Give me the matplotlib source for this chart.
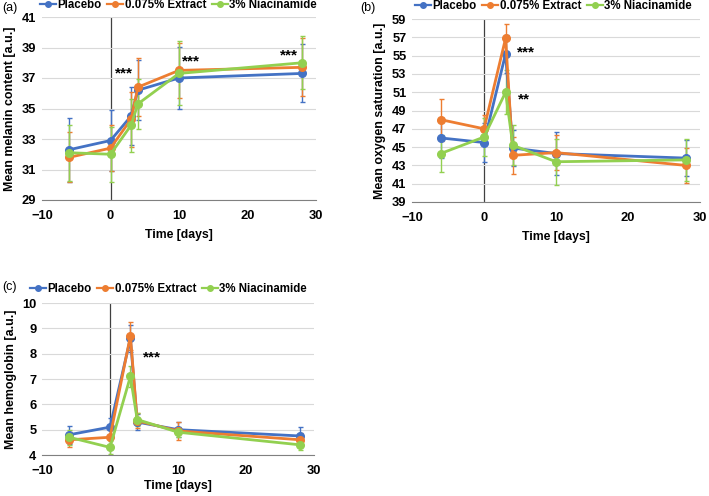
import matplotlib.pyplot as plt
from matplotlib.lines import Line2D

plt.rcParams['font.family'] = ['Liberation Sans', 'DejaVu Sans']

days = [-6, 0, 3, 4, 10, 28]
names = ["Placebo", "0.075% Extract", "3% Niacinamide"]
colors = ['#4472C4', '#ED7D31', '#92D050']

# (a) melanin
mel_placebo = [32.3, 32.9, 34.5, 36.2, 37.0, 37.3]
mel_extract = [31.8, 32.4, 34.3, 36.4, 37.5, 37.7]
mel_nia = [32.1, 32.0, 33.9, 35.3, 37.3, 38.0]
mel_placebo_err = [2.1, 2.0, 1.9, 1.95, 2.05, 1.9]
mel_extract_err = [1.65, 1.5, 1.8, 1.9, 1.8, 1.9]
mel_nia_err = [1.85, 1.8, 1.75, 1.65, 2.1, 1.75]

# (b) oxygen saturation
oxy_placebo = [46.0, 45.5, 55.2, 44.9, 44.3, 43.8]
oxy_extract = [48.0, 47.0, 56.9, 44.1, 44.4, 43.0]
oxy_nia = [44.3, 46.1, 51.0, 45.2, 43.4, 43.6]
oxy_placebo_err = [2.2, 2.1, 2.1, 2.0, 2.3, 2.0]
oxy_extract_err = [2.3, 1.5, 1.6, 2.0, 1.9, 1.9]
oxy_nia_err = [2.0, 2.1, 2.4, 2.2, 2.5, 2.3]

# (c) hemoglobin
hb_placebo = [4.8, 5.1, 8.6, 5.3, 5.0, 4.75]
hb_extract = [4.6, 4.7, 8.7, 5.35, 4.95, 4.6]
hb_nia = [4.7, 4.3, 7.1, 5.4, 4.9, 4.4]
hb_placebo_err = [0.35, 0.35, 0.55, 0.3, 0.3, 0.35]
hb_extract_err = [0.3, 0.3, 0.55, 0.3, 0.35, 0.25]
hb_nia_err = [0.3, 0.25, 0.4, 0.25, 0.2, 0.2]

W, H = 709, 496
fig = plt.figure(figsize=(W / 100, H / 100), dpi=100)

# pixel boxes: left, top, right, bottom ; tag position ; legend x, y ; xlabel pad
panels = [
    ((42, 17, 316, 200), (2, 8), (40, 5), 5, "(a)", "Mean melanin content [a.u.]",
     [mel_placebo, mel_extract, mel_nia], [mel_placebo_err, mel_extract_err, mel_nia_err],
     (29, 41, 2), [(2.0, 37.3, "***"), (11.8, 38.1, "***"), (26.0, 38.5, "***")]),
    ((412, 19, 700, 202), (360, 8), (415, 6), 5, "(b)", "Mean oxygen saturation [a.u.]",
     [oxy_placebo, oxy_extract, oxy_nia], [oxy_placebo_err, oxy_extract_err, oxy_nia_err],
     (39, 59, 2), [(5.8, 55.3, "***"), (5.6, 50.2, "**")]),
    ((42, 303, 314, 455), (2, 287), (30, 289), 2.5, "(c)", "Mean hemoglobin [a.u.]",
     [hb_placebo, hb_extract, hb_nia], [hb_placebo_err, hb_extract_err, hb_nia_err],
     (4, 10, 1), [(6.2, 7.85, "***")]),
]

handles = [Line2D([], [], color=c, lw=1.6, marker='o', ms=4) for c in colors]

for (l, t, r, b), (tx, ty), (lx, ly), xpad, tag, ylabel, series, errs, (y0, y1, ystep), stars in panels:
    ax = fig.add_axes([l / W, 1 - b / H, (r - l) / W, (b - t) / H])
    for vals, err, c in zip(series, errs, colors):
        ax.errorbar(days, vals, yerr=err, color=c, lw=2, marker='o', ms=5.5,
                    elinewidth=1, capsize=1.8, capthick=1)
    ax.axvline(0, color='#404040', lw=0.9, zorder=0)
    ax.set_xlim(-10, 30)
    ax.set_ylim(y0, y1)
    ax.set_xticks([-10, 0, 10, 20, 30])
    ax.set_xticklabels(['\u221210', '0', '10', '20', '30'])
    ax.set_yticks(range(y0, y1 + 1, ystep))
    ax.grid(axis='y', color='#d9d9d9', lw=0.8)
    ax.set_axisbelow(True)
    for s in ['top', 'right', 'left']:
        ax.spines[s].set_visible(False)
    ax.spines['bottom'].set_color('#808080')
    ax.tick_params(length=0, labelsize=9.3)
    ax.tick_params(axis='x', pad=7)
    ax.tick_params(axis='y', pad=4)
    for lab in ax.get_xticklabels() + ax.get_yticklabels():
        lab.set_fontweight('bold')
    ax.set_xlabel("Time [days]", fontsize=8.8, fontweight='bold', labelpad=xpad)
    ax.set_ylabel(ylabel, fontsize=8.9, fontweight='bold', labelpad=4)
    for sx, sy, st in stars:
        ax.text(sx, sy, st, fontsize=11, fontweight='bold', ha='center', va='center')
    ax.legend(handles, names, loc='center left', bbox_to_anchor=(lx / W, 1 - ly / H),
              bbox_transform=fig.transFigure, ncol=3,
              frameon=False, handlelength=1.4, columnspacing=0.5, handletextpad=0.1,
              borderaxespad=0, borderpad=0, prop={'weight': 'bold', 'size': 8.3})
    fig.text(tx / W, 1 - ty / H, tag, fontsize=9, va='center', ha='left')

fig.savefig("out.png", dpi=100)
